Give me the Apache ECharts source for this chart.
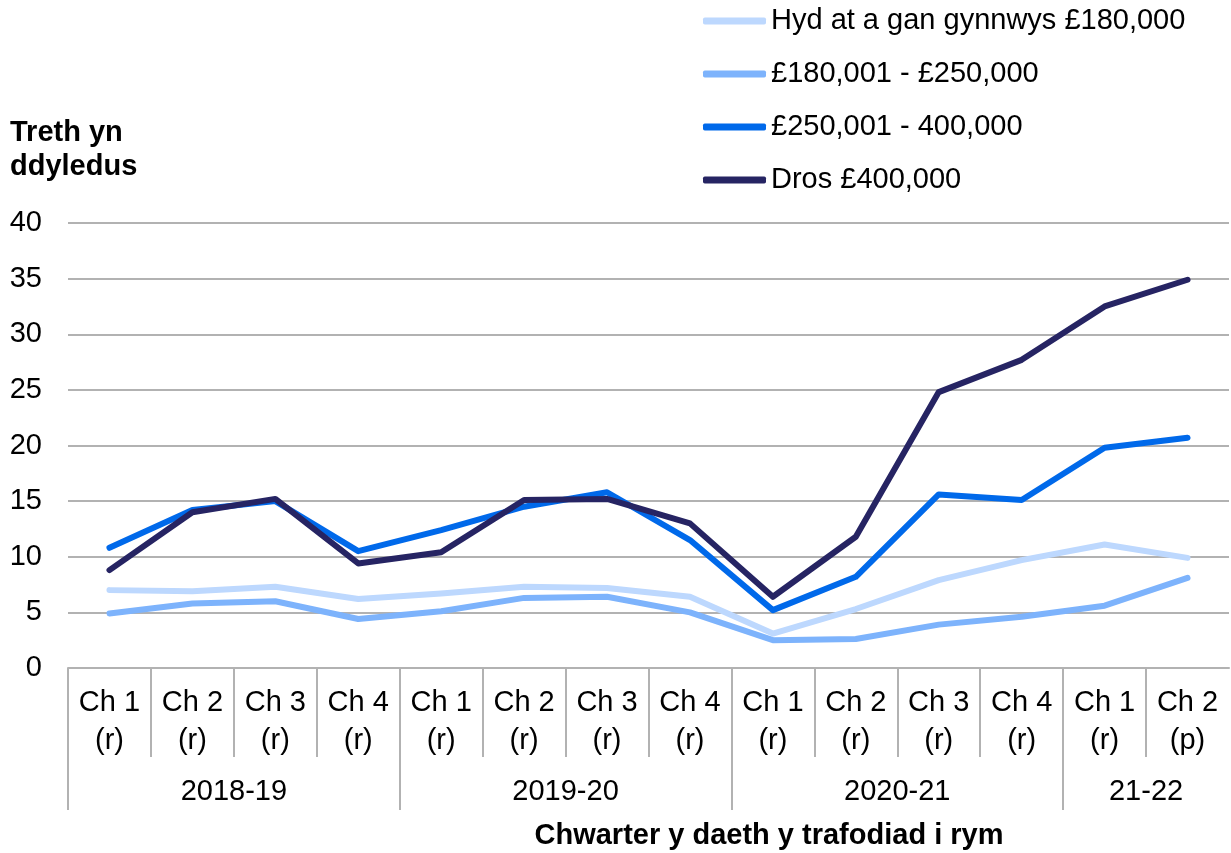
<!DOCTYPE html>
<html>
<head>
<meta charset="utf-8">
<script src="https://cdn.jsdelivr.net/npm/echarts@6/dist/echarts.min.js"></script>
<style>
  html, body { margin: 0; padding: 0; background: #fff; }
  #chart { width: 1231px; height: 853px; }
</style>
</head>
<body>
<div id="chart"></div>
<script>
// quarter labels along the bottom, and the financial years they sit in
const quarters = [
  'Ch 1\n(r)', 'Ch 2\n(r)', 'Ch 3\n(r)', 'Ch 4\n(r)',
  'Ch 1\n(r)', 'Ch 2\n(r)', 'Ch 3\n(r)', 'Ch 4\n(r)',
  'Ch 1\n(r)', 'Ch 2\n(r)', 'Ch 3\n(r)', 'Ch 4\n(r)',
  'Ch 1\n(r)', 'Ch 2\n(p)'
];
const years = ['2018-19', '2019-20', '2020-21', '21-22'];
const yearSizes = [4, 4, 4, 2];

const seriesNames = [
  'Hyd at a gan gynnwys £180,000',
  '£180,001 - £250,000',
  '£250,001 - 400,000',
  'Dros £400,000'
];
const upTo180 = [7.0, 6.9, 7.3, 6.2, 6.7, 7.3, 7.2, 6.4, 3.1, 5.3, 7.9, 9.7, 11.1, 9.9];
const to250 = [4.9, 5.8, 6.0, 4.4, 5.1, 6.3, 6.4, 5.0, 2.5, 2.6, 3.9, 4.6, 5.6, 8.1];
const to400 = [10.8, 14.2, 15.0, 10.5, 12.4, 14.5, 15.8, 11.5, 5.2, 8.2, 15.6, 15.1, 19.8, 20.7];
const over400 = [8.8, 14.0, 15.2, 9.4, 10.4, 15.1, 15.2, 13.0, 6.4, 11.8, 24.8, 27.7, 32.5, 34.9];

const colors = ['#BDD8FE', '#7DB3FC', '#0069EA', '#262463'];
const font = 'Liberation Sans, Arial, sans-serif';
const fontSize = 29;
const grey = '#B2B2B2';

// group boundaries and centres, worked out from the group sizes
const yearEdges = [0];
const yearCentres = [];
yearSizes.forEach(n => {
  const start = yearEdges[yearEdges.length - 1];
  yearCentres.push(start + n / 2);
  yearEdges.push(start + n);
});
const quarterEdges = quarters.map((q, i) => i);

const chart = echarts.init(document.getElementById('chart'), null, { renderer: 'canvas' });

const valueXAxis = (tickValues, tickLength, extra) => Object.assign({
  type: 'value',
  gridIndex: 0,
  position: 'bottom',
  min: 0,
  max: quarters.length,
  interval: 1,
  axisLine: { show: false },
  splitLine: { show: false },
  axisTick: {
    show: true,
    inside: false,
    length: tickLength,
    customValues: tickValues,
    lineStyle: { color: grey, width: 2 }
  },
  axisLabel: { show: false }
}, extra);

const option = {
  animation: false,
  color: colors,
  grid: { left: 68, right: 2, top: 223, bottom: 185, containLabel: false },
  legend: {
    orient: 'vertical',
    left: 703,
    top: 6,
    padding: 0,
    itemWidth: 63,
    itemHeight: 7,
    itemGap: 23,
    icon: 'roundRect',
    textStyle: { fontFamily: font, fontSize: fontSize, color: '#000', lineHeight: 30 },
    data: seriesNames
  },
  graphic: [
    {
      type: 'text',
      x: 10,
      y: 116,
      style: {
        text: 'Treth yn\nddyledus',
        fontFamily: font,
        fontSize: fontSize,
        fontWeight: 'bold',
        lineHeight: 34,
        fill: '#000'
      }
    },
    {
      type: 'text',
      x: 769,
      y: 836,
      style: {
        text: 'Chwarter y daeth y trafodiad i rym',
        fontFamily: font,
        fontSize: fontSize,
        fontWeight: 'bold',
        align: 'center',
        verticalAlign: 'middle',
        fill: '#000'
      }
    }
  ],
  xAxis: [
    {
      type: 'category',
      data: quarters,
      boundaryGap: true,
      axisLine: { show: true, lineStyle: { color: grey, width: 2 } },
      axisTick: { show: false },
      axisLabel: {
        interval: 0,
        margin: 16,
        fontFamily: font,
        fontSize: fontSize,
        lineHeight: 38,
        color: '#000'
      }
    },
    valueXAxis(quarterEdges, 89),
    valueXAxis(yearEdges.slice(0, -1), 142, {
      axisLabel: {
        show: true,
        customValues: yearCentres,
        margin: 109,
        fontFamily: font,
        fontSize: fontSize,
        lineHeight: 30,
        color: '#000',
        formatter: v => years[yearCentres.indexOf(v)] || ''
      }
    })
  ],
  yAxis: {
    type: 'value',
    min: 0,
    max: 40,
    interval: 5,
    axisLine: { show: false },
    axisTick: { show: false },
    splitLine: { lineStyle: { color: grey, width: 2 } },
    axisLabel: { margin: 26, fontFamily: font, fontSize: fontSize, color: '#000' }
  },
  series: [upTo180, to250, to400, over400].map((d, i) => ({
    name: seriesNames[i],
    type: 'line',
    data: d,
    symbol: 'none',
    showSymbol: false,
    lineStyle: { width: 6, color: colors[i], cap: 'round', join: 'round' },
    itemStyle: { color: colors[i] }
  }))
};

chart.setOption(option);
</script>
</body>
</html>
